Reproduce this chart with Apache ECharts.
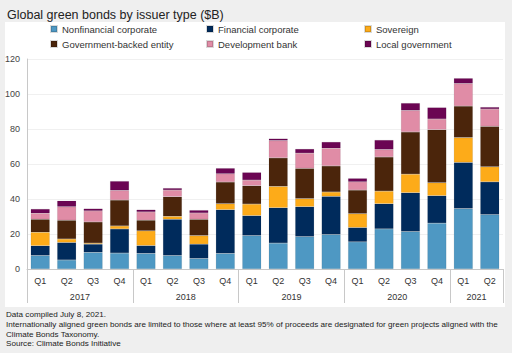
<!DOCTYPE html>
<html>
<head>
<meta charset="utf-8">
<script src="https://cdn.jsdelivr.net/npm/echarts@6/dist/echarts.min.js"></script>
<style>
  html, body { margin: 0; padding: 0; background: #efefef; }
  #chart { width: 512px; height: 353px; }
</style>
</head>
<body>
<div id="chart"></div>
<script>
// quarters and years along the bottom
const quarters = ['Q1','Q2','Q3','Q4','Q1','Q2','Q3','Q4','Q1','Q2','Q3','Q4','Q1','Q2','Q3','Q4','Q1','Q2']
const years = ['2017', '2018', '2019', '2020', '2021']
const yearCenters = [2, 6, 10, 14, 17]
const yearBounds = [0, 4, 8, 12, 16, 18]

// $B per quarter
const nonfinancial = [7.7, 5.1, 9.5, 9.1, 8.9, 7.7, 6.0, 8.9, 19.1, 14.8, 18.5, 19.7, 15.5, 22.9, 21.4, 26.2, 34.5, 31.1]
const financial = [5.6, 10.0, 4.7, 13.8, 4.5, 20.7, 8.2, 25.0, 11.4, 20.2, 17.1, 21.8, 8.2, 14.4, 22.2, 15.7, 26.4, 18.7]
const sovereign = [7.7, 2.1, 0.6, 1.7, 8.4, 1.7, 4.9, 3.4, 6.6, 12.2, 4.6, 2.5, 7.9, 7.2, 10.6, 7.4, 14.2, 8.6]
const govBacked = [7.4, 10.7, 12.1, 14.8, 6.1, 11.2, 9.3, 12.4, 10.5, 16.3, 17.3, 14.9, 13.5, 19.5, 24.1, 30.3, 18.0, 23.1]
const devBank = [3.4, 7.7, 6.3, 5.5, 4.7, 3.8, 3.6, 4.7, 3.2, 9.9, 8.7, 10.1, 4.7, 4.3, 12.3, 6.1, 12.9, 9.9]
const localGov = [2.5, 3.4, 1.3, 5.3, 1.3, 1.1, 1.6, 3.2, 4.4, 1.1, 2.4, 3.6, 2.0, 5.4, 4.2, 6.6, 3.0, 1.1]

const seriesDefs = [
  ['Nonfinancial corporate', nonfinancial, '#4e98c3'],
  ['Financial corporate', financial, '#002b5c'],
  ['Sovereign', sovereign, '#fdab19'],
  ['Government-backed entity', govBacked, '#4b250b'],
  ['Development bank', devBank, '#e08ca6'],
  ['Local government', localGov, '#6b0553']
]

const font = 'Liberation Sans'
const chart = echarts.init(document.getElementById('chart'), null, {renderer: 'svg'})

const legendBase = {
  orient: 'vertical',
  top: 19,
  itemWidth: 6,
  itemHeight: 6,
  itemGap: 5,
  icon: 'rect',
  selectedMode: false,
  textStyle: {fontFamily: font, fontSize: 9.5, color: '#333'}
}

chart.setOption({
  backgroundColor: '#efefef',
  animation: false,
  title: {
    text: 'Global green bonds by issuer type ($B)',
    left: 2,
    top: 3,
    textStyle: {fontFamily: font, fontSize: 12.5, fontWeight: 'normal', color: '#222'}
  },
  legend: [
    Object.assign({}, legendBase, {left: 45, data: ['Nonfinancial corporate', 'Government-backed entity']}),
    Object.assign({}, legendBase, {left: 201, data: ['Financial corporate', 'Development bank']}),
    Object.assign({}, legendBase, {left: 359, data: ['Sovereign', 'Local government']})
  ],
  grid: {left: 27, right: 9, top: 59, bottom: 84},
  xAxis: [
    {
      type: 'category',
      data: quarters,
      axisLine: {lineStyle: {color: '#c8c8c8'}},
      axisTick: {show: false},
      axisLabel: {fontFamily: font, fontSize: 9, color: '#333', margin: 7}
    },
    {
      type: 'value',
      min: 0,
      max: 18,
      position: 'bottom',
      axisLine: {show: false},
      splitLine: {show: false},
      axisTick: {show: true, customValues: yearBounds, length: 34, lineStyle: {color: '#c8c8c8'}},
      axisLabel: {
        customValues: yearCenters,
        formatter: v => years[yearCenters.indexOf(v)] || '',
        fontFamily: font, fontSize: 9, color: '#333', margin: 23
      }
    }
  ],
  yAxis: {
    type: 'value',
    min: 0,
    max: 120,
    interval: 20,
    axisLine: {show: true, lineStyle: {color: '#c8c8c8'}},
    axisTick: {show: false},
    splitLine: {lineStyle: {color: '#f0f0f0'}},
    axisLabel: {fontFamily: font, fontSize: 9, color: '#444', margin: 7}
  },
  graphic: [
    {type: 'rect', z: -10, shape: {x: 5, y: 22, width: 500, height: 285}, style: {fill: '#fff'}},
    {
      type: 'text', left: 6, top: 310,
      style: {
        text: 'Data compiled July 8, 2021.\nInternationally aligned green bonds are limited to those where at least 95% of proceeds are designated for green projects aligned with the\nClimate Bonds Taxonomy.\nSource: Climate Bonds Initiative',
        font: '8.1px "Liberation Sans"',
        lineHeight: 9.7,
        fill: '#222'
      }
    }
  ],
  series: seriesDefs.map(([name, data, color]) => ({
    name,
    type: 'bar',
    stack: 'total',
    data,
    barWidth: 19,
    itemStyle: {color, borderColor: 'rgba(0,0,0,0.15)', borderWidth: 0.5}
  }))
})
</script>
</body>
</html>
